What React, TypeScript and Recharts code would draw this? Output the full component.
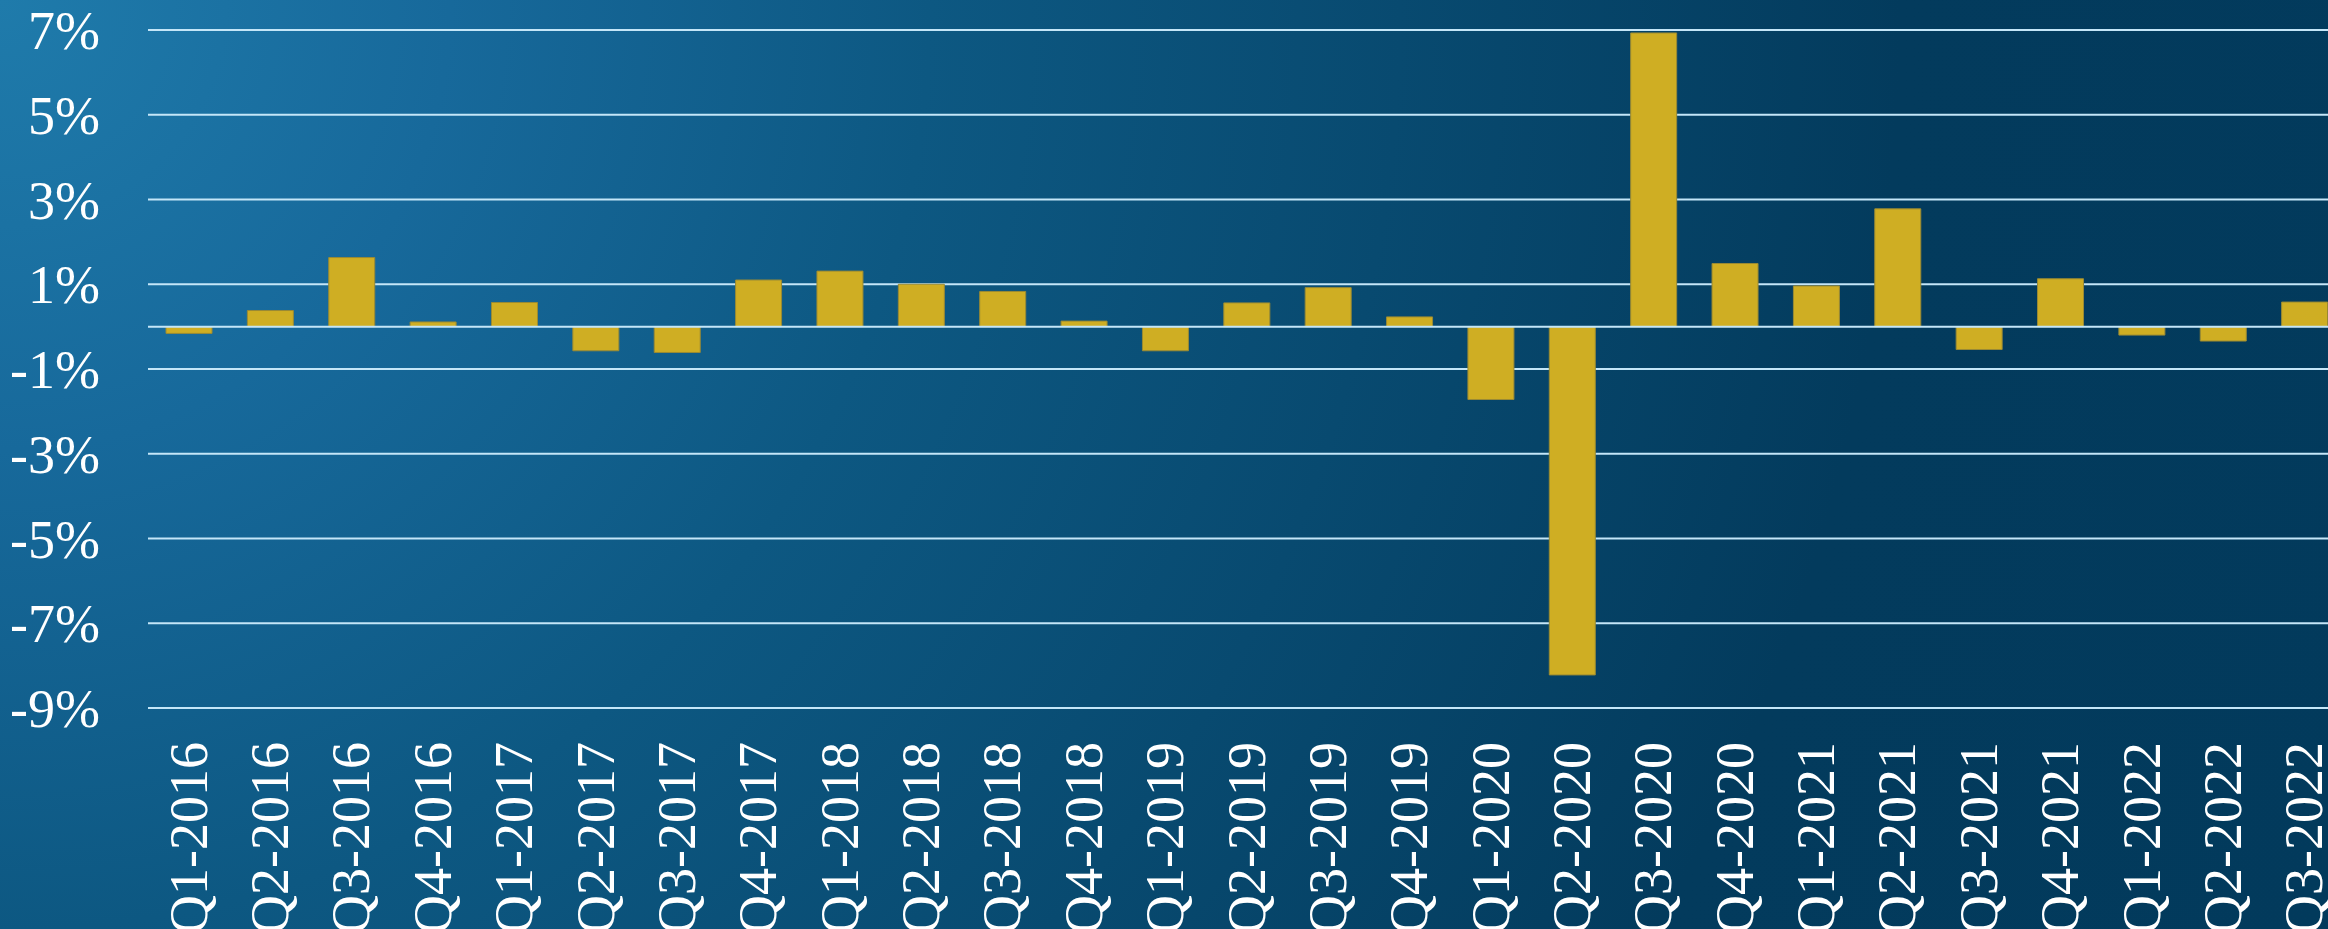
import { Bar, BarChart, CartesianGrid, ReferenceLine, XAxis, YAxis } from "recharts";

const quarters = [
  "Q1-2016", "Q2-2016", "Q3-2016", "Q4-2016",
  "Q1-2017", "Q2-2017", "Q3-2017", "Q4-2017",
  "Q1-2018", "Q2-2018", "Q3-2018", "Q4-2018",
  "Q1-2019", "Q2-2019", "Q3-2019", "Q4-2019",
  "Q1-2020", "Q2-2020", "Q3-2020", "Q4-2020",
  "Q1-2021", "Q2-2021", "Q3-2021", "Q4-2021",
  "Q1-2022", "Q2-2022", "Q3-2022",
];

// quarter-over-quarter change, %
const growth = [
  -0.16, 0.38, 1.63, 0.11,
  0.57, -0.57, -0.61, 1.1,
  1.31, 1.0, 0.83, 0.13,
  -0.57, 0.56, 0.92, 0.23,
  -1.72, -8.22, 6.93, 1.49,
  0.96, 2.78, -0.54, 1.13,
  -0.2, -0.34, 0.58,
];

const yTicks = [-9, -7, -5, -3, -1, 1, 3, 5, 7];

const data = quarters.map((q, i) => ({ quarter: q, growth: growth[i] }));

const FONT = '"Liberation Serif", "Times New Roman", serif';
const GRID = "#c4e6f8";

function QuarterTick({ x, y, payload }: any) {
  return (
    <text
      x={x + 18}
      y={y + 34}
      transform={`rotate(-90, ${x + 18}, ${y + 34})`}
      textAnchor="end"
      fill="#ffffff"
      fontSize={54}
      fontFamily={FONT}
    >
      {payload.value}
    </text>
  );
}

export default function App() {
  return (
    <div
      style={{
        position: "fixed",
        left: 0,
        top: 0,
        width: 2328,
        height: 929,
        overflow: "hidden",
        background:
          "radial-gradient(circle at 0 0, #1f7bab 0px, #17699b 450px, #0d5882 930px, #084a70 1400px, #033b5d 1900px, #023a5c 2500px)",
      }}
    >
      <BarChart
        width={2345}
        height={929}
        data={data}
        margin={{ top: 30, right: 0, bottom: 0, left: 0 }}
        barSize={46}
      >
        <CartesianGrid vertical={false} stroke={GRID} strokeWidth={2} />
        <XAxis
          dataKey="quarter"
          interval={0}
          height={221}
          axisLine={false}
          tickLine={false}
          tickSize={0}
          tickMargin={0}
          tick={<QuarterTick />}
        />
        <YAxis
          width={148}
          domain={[-9, 7]}
          ticks={yTicks}
          interval={0}
          axisLine={false}
          tickLine={false}
          tickSize={0}
          tickMargin={48}
          tickFormatter={(v: number) => `${v}%`}
          tick={{ fill: "#ffffff", fontSize: 54, fontFamily: FONT }}
        />
        <Bar
          dataKey="growth"
          fill="#cfae23"
          stroke="#9a8a34"
          strokeWidth={1}
          isAnimationActive={false}
        />
        <ReferenceLine y={0} stroke={GRID} strokeWidth={2} />
      </BarChart>
    </div>
  );
}
